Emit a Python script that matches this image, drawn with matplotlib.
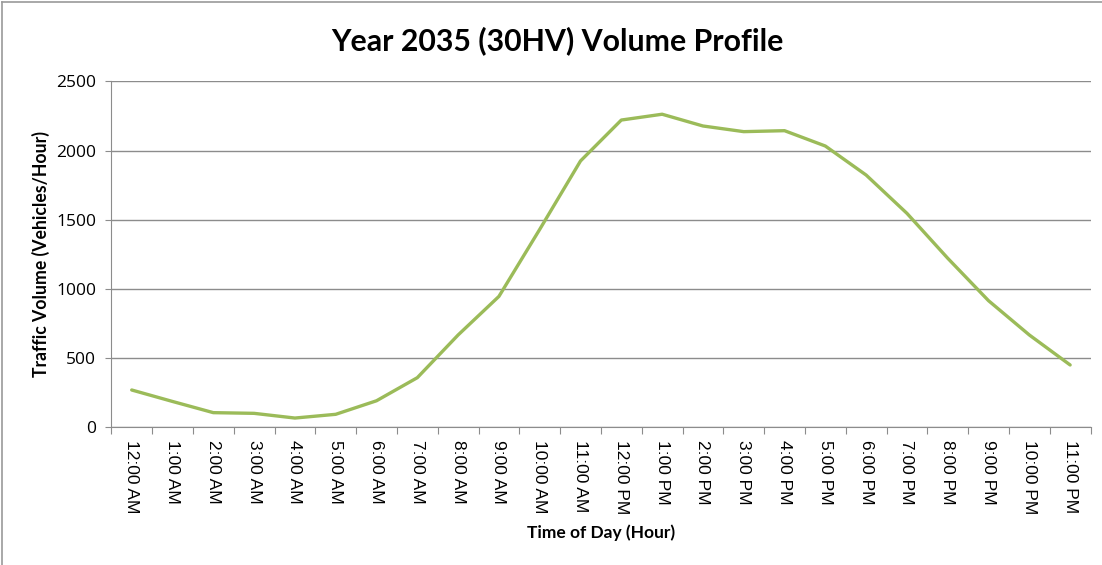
import numpy as np
import matplotlib.pyplot as plt
from matplotlib.lines import Line2D

# Hourly volumes
hours = ["12:00 AM", "1:00 AM", "2:00 AM", "3:00 AM", "4:00 AM", "5:00 AM",
         "6:00 AM", "7:00 AM", "8:00 AM", "9:00 AM", "10:00 AM", "11:00 AM",
         "12:00 PM", "1:00 PM", "2:00 PM", "3:00 PM", "4:00 PM", "5:00 PM",
         "6:00 PM", "7:00 PM", "8:00 PM", "9:00 PM", "10:00 PM", "11:00 PM"]
volume = [268, 185, 104, 99, 65, 92, 190, 357, 666, 945, 1430, 1925,
          2221, 2263, 2178, 2137, 2144, 2033, 1823, 1546, 1221, 914, 666, 449]
y_ticks = [0, 500, 1000, 1500, 2000, 2500]

plt.rcParams['font.family'] = ['Lato', 'DejaVu Sans']

fig = plt.figure(figsize=(11.02, 5.65), dpi=100)
ax = fig.add_axes([0.101, 0.2442, 0.8886, 0.6116])

x = np.arange(len(hours))
ax.plot(x, volume, color='#9BBB59', linewidth=2.4, solid_capstyle='round')

ax.set_xlim(-0.5, len(hours) - 0.5)
ax.set_ylim(0, 2500)
ax.set_yticks(y_ticks)
ax.set_yticklabels([str(v) for v in y_ticks], fontsize=12.5, family='Open Sans')
ax.yaxis.grid(True, color='#8c8c8c', linewidth=1)
ax.set_axisbelow(True)

# category boundaries carry tick marks, labels sit on the categories
ax.set_xticks(np.arange(-0.5, len(hours), 1.0))
ax.set_xticklabels([])
ax.set_xticks(x, minor=True)
ax.set_xticklabels(hours, minor=True, rotation=-90, fontsize=12.5,
                   family='Liberation Sans', va='top', ha='center')
ax.tick_params(axis='x', which='major', length=5, color='#8c8c8c', direction='out')
ax.tick_params(axis='x', which='minor', length=0, pad=9)
ax.tick_params(axis='y', length=4, color='#8c8c8c', direction='out', pad=7)

for side in ['top', 'right']:
    ax.spines[side].set_visible(False)
for side in ['left', 'bottom']:
    ax.spines[side].set_color('#8c8c8c')

ax.set_ylabel("Traffic Volume (Vehicles/Hour)", fontsize=12.7, fontweight='bold')
ax.yaxis.set_label_coords(-0.063, 0.5)
ax.set_xlabel("Time of Day (Hour)", fontsize=12.5, fontweight='bold', labelpad=8)
fig.text(0.506, 0.928, "Year 2035 (30HV) Volume Profile", fontsize=21.8,
         fontweight='bold', ha='center', va='center')

# chart frame edges (top and left)
fig.add_artist(Line2D([0.002, 0.002], [0, 0.997], color='#9a9a9a', linewidth=1.2))
fig.add_artist(Line2D([0.002, 1.0], [0.997, 0.997], color='#9a9a9a', linewidth=1.2))

fig.savefig("out.png", dpi=100)
